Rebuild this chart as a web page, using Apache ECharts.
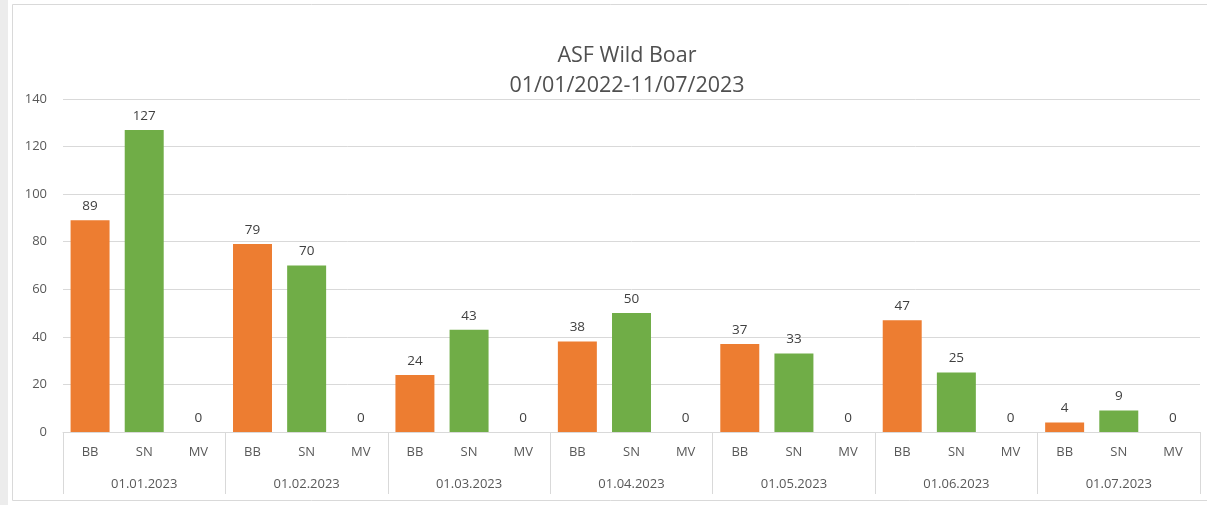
<!DOCTYPE html>
<html>
<head>
<meta charset="utf-8">
<script src="https://cdn.jsdelivr.net/npm/echarts@6/dist/echarts.min.js"></script>
<style>
  html, body { margin: 0; padding: 0; background: #fff; }
  #chart { width: 1207px; height: 505px; }
</style>
</head>
<body>
<div id="chart"></div>
<script>
const months = ["01.01.2023", "01.02.2023", "01.03.2023", "01.04.2023", "01.05.2023", "01.06.2023", "01.07.2023"];
const regions = ["BB", "SN", "MV"];
const bbValues = [89, 79, 24, 38, 37, 47, 4];
const snValues = [127, 70, 43, 50, 33, 25, 9];
const mvValues = [0, 0, 0, 0, 0, 0, 0];
const regionColors = ["#ED7D31", "#70AD47", "#A5A5A5"];

const font = "'Open Sans', 'Noto Sans', sans-serif";
const textColor = "#595959";

const labels = [];
const values = [];
months.forEach((m, i) => {
  [bbValues, snValues, mvValues].forEach((arr, r) => {
    labels.push(regions[r]);
    values.push(arr[i]);
  });
});

const chart = echarts.init(document.getElementById("chart"));
chart.setOption({
  animation: false,
  title: {
    text: "ASF Wild Boar\n01/01/2022-11/07/2023",
    left: 622,
    top: 36,
    textAlign: "center",
    textStyle: { fontFamily: font, fontSize: 21.5, fontWeight: "normal", color: "#505050", lineHeight: 30 },
  },
  graphic: [
    { type: "rect", shape: { x: 12.5, y: 4.5, width: 1200, height: 496 }, style: { fill: "none", stroke: "#d9d9d9", lineWidth: 1 }, z: -1 },
    { type: "rect", shape: { x: 0, y: 0, width: 8, height: 505 }, style: { fill: "#ececec", stroke: "none" }, z: -1 },
  ],
  grid: { left: 63, right: 7, top: 99, bottom: 73 },
  xAxis: [
    {
      type: "category",
      data: labels,
      axisLine: { show: true, lineStyle: { color: "#d9d9d9" } },
      axisTick: { show: false },
      axisLabel: { interval: 0, margin: 14, color: textColor, fontFamily: font, fontSize: 13 },
    },
    {
      type: "category",
      data: months,
      position: "bottom",
      axisLine: { show: false },
      axisTick: { show: true, interval: 0, length: 62, lineStyle: { color: "#d9d9d9" } },
      axisLabel: { interval: 0, margin: 46, color: textColor, fontFamily: font, fontSize: 13 },
    },
  ],
  yAxis: {
    type: "value",
    min: 0,
    max: 140,
    interval: 20,
    axisLine: { show: false },
    axisTick: { show: false },
    axisLabel: { margin: 16, color: textColor, fontFamily: font, fontSize: 13 },
    splitLine: { lineStyle: { color: "#d9d9d9" } },
  },
  series: [
    {
      type: "bar",
      xAxisIndex: 0,
      data: values,
      barCategoryGap: "28%",
      itemStyle: { color: (p) => regionColors[p.dataIndex % 3] },
      label: { show: true, position: "top", distance: 7, color: "#404040", fontFamily: font, fontSize: 13.5 },
    },
  ],
});
</script>
</body>
</html>
